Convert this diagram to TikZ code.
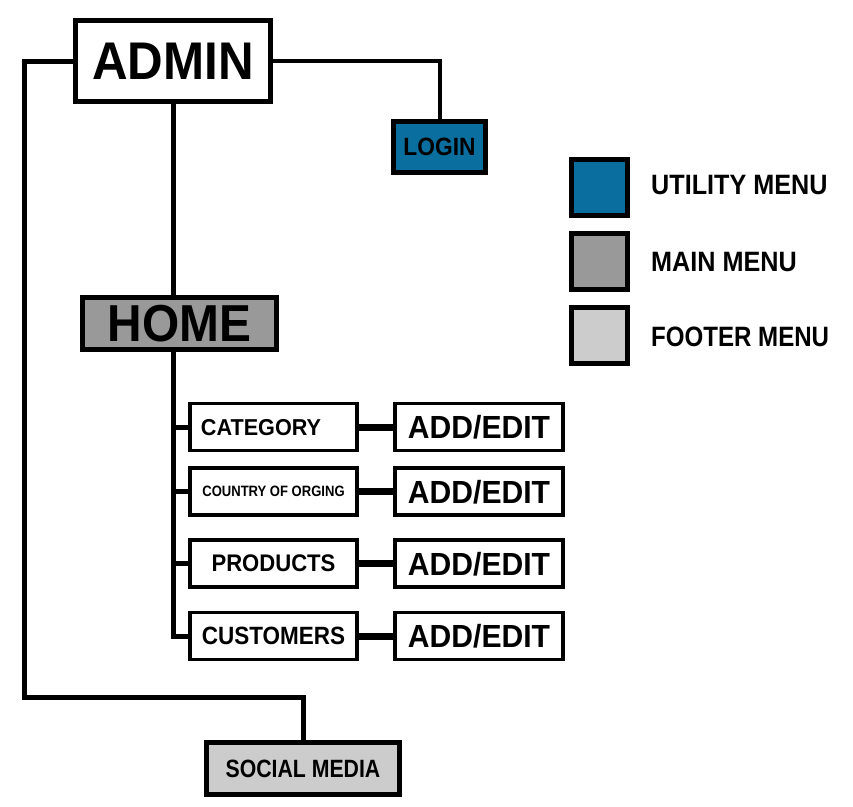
\documentclass[tikz,border=0pt]{standalone}
\usepackage{fontspec}
\setmainfont{Liberation Sans}
\definecolor{utilblue}{HTML}{0A6E9E}
\definecolor{maingray}{HTML}{999999}
\definecolor{footgray}{HTML}{CCCCCC}
\newcommand{\fsz}[1]{\fontsize{#1}{#1}\selectfont\bfseries}
\newcommand{\sx}[2]{\scalebox{#1}[1]{#2}}
\begin{document}
\begin{tikzpicture}[x=1pt,y=-1pt,
  box/.style={draw=black,line width=5pt,inner sep=0pt,text depth=0pt,anchor=center},
  childbox/.style={draw=black,fill=white,line width=3.5pt,inner sep=0pt,text depth=0pt,minimum width=167pt,minimum height=47pt},
  addbox/.style={childbox,minimum width=168pt},
  wire/.style={line width=5pt},
  thinwire/.style={line width=4pt},
  boldwire/.style={line width=7pt},
  legendbox/.style={draw=black,line width=5pt,minimum width=56pt,minimum height=56pt,inner sep=0pt},
  legendtext/.style={anchor=west,inner sep=0pt,text depth=0pt,font=\fsz{28}}
]
\useasboundingbox (0,0) rectangle (853,806);

% main nodes
\node[box,fill=white,minimum width=195pt,minimum height=81pt,font=\fsz{53}] (admin) at (173,61) {\sx{0.93}{ADMIN}};
\node[box,fill=utilblue,minimum width=92pt,minimum height=51pt,font=\fsz{25}] (login) at (439.5,147) {\sx{0.91}{LOGIN}};
\node[box,fill=maingray,minimum width=194pt,minimum height=52pt,font=\fsz{52}] (home) at (179.5,323.5) {\sx{0.92}{HOME}};
\node[box,fill=footgray,minimum width=193pt,minimum height=52pt,font=\fsz{25}] (social) at (303,768.5) {\sx{0.85}{SOCIAL MEDIA}};

% children
\node[childbox,font=\fsz{23}] (c1) at (273.5,427) {\hspace*{-25pt}\sx{0.94}{CATEGORY}};
\node[childbox,font=\fsz{15}] (c2) at (273.5,491.5) {\sx{0.87}{COUNTRY OF ORGING}};
\node[childbox,font=\fsz{24}] (c3) at (273.5,563.5) {\sx{0.92}{PRODUCTS}};
\node[childbox,font=\fsz{25}] (c4) at (273.5,636) {\sx{0.9}{CUSTOMERS}};

\node[addbox,font=\fsz{32}] (a1) at (479,427) {\sx{0.94}{ADD/EDIT}};
\node[addbox,font=\fsz{32}] (a2) at (479,491.5) {\sx{0.94}{ADD/EDIT}};
\node[addbox,font=\fsz{32}] (a3) at (479,563.5) {\sx{0.94}{ADD/EDIT}};
\node[addbox,font=\fsz{32}] (a4) at (479,636) {\sx{0.94}{ADD/EDIT}};

% legend
\node[legendbox,fill=utilblue] (lg1) at (599.5,187.5) {};
\node[legendbox,fill=maingray] (lg2) at (599.5,261.5) {};
\node[legendbox,fill=footgray] (lg3) at (599.5,335) {};
\node[legendtext] (lt1) at (651,185) {\sx{0.9}{UTILITY MENU}};
\node[legendtext] (lt2) at (651,262) {\sx{0.9}{MAIN MENU}};
\node[legendtext] (lt3) at (651,337) {\sx{0.86}{FOOTER MENU}};

% connectors
\coordinate (lc) at (24.5,697.5);
\draw[wire] (admin.west) -| (lc) -| (social.north);
\draw[thinwire] (admin.east) -| (login.north);
\draw[wire] (admin.south) -- (admin.south |- home.north);
\draw[wire] (admin.south |- home.south) |- (c1.west);
\draw[wire] (admin.south |- home.south) |- (c2.west);
\draw[wire] (admin.south |- home.south) |- (c3.west);
\draw[wire] (admin.south |- home.south) |- (c4.west);
\draw[boldwire] (c1.east) -- (a1.west);
\draw[boldwire] (c2.east) -- (a2.west);
\draw[boldwire] (c3.east) -- (a3.west);
\draw[boldwire] (c4.east) -- (a4.west);
\end{tikzpicture}
\end{document}
